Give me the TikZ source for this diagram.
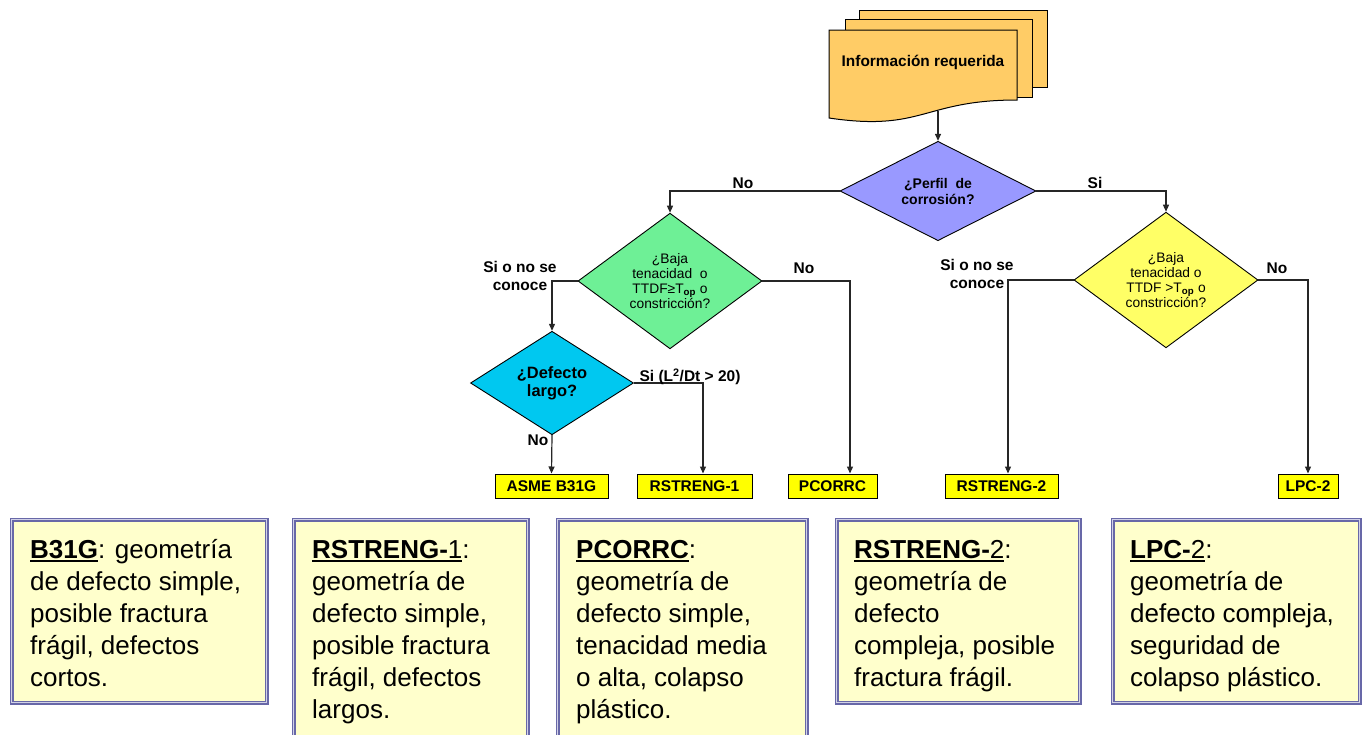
\documentclass[tikz,border=0pt]{standalone}
\usepackage{fontspec}
\setmainfont{Liberation Sans}
\usetikzlibrary{shapes.geometric,arrows.meta,calc}

\definecolor{docfill}{RGB}{255,204,102}
\definecolor{perfilfill}{RGB}{153,153,255}
\definecolor{greenfill}{RGB}{110,240,150}
\definecolor{cyanfill}{RGB}{0,200,240}
\definecolor{lightyel}{RGB}{255,255,102}
\definecolor{tagyel}{RGB}{255,255,0}
\definecolor{descfill}{RGB}{255,255,204}
\definecolor{descedge}{RGB}{104,104,168}
\definecolor{descgap}{RGB}{210,210,232}

% underline with a heavier rule
\newcommand\ulbox[1]{\leavevmode\setbox0\hbox{#1}\rlap{\rule[-4.2pt]{\wd0}{2.2pt}}\box0}
\newcommand\desctext[1]{\parbox[t]{300pt}{\fontsize{26}{32}\selectfont\raggedright #1}}

\begin{document}
\begin{tikzpicture}[x=1pt,y=-1pt,
  sheet/.style={fill=docfill,draw=black,line width=1pt},
  conn/.style={draw=black!85,line width=1.2pt,-{Triangle[length=7pt,width=6pt]}},
  decision/.style={diamond,draw=black,line width=0.9pt,inner sep=0pt,align=center},
  lbl/.style={font=\fontsize{15.5}{18}\selectfont\bfseries,align=center,inner sep=0pt},
  tag/.style={draw=black,line width=1pt,fill=tagyel,minimum height=24pt,inner sep=0pt,
              font=\fontsize{15.5}{18}\selectfont\bfseries},
  descbox/.style={draw=descedge,line width=1.6pt,double=descgap,double distance=1.2pt,
                  fill=descfill,anchor=north west,inner sep=0pt},
  desc/.style={anchor=base west,inner sep=0pt}]
\useasboundingbox (0,0) rectangle (1363,734);
\clip (0,0) rectangle (1363,734);

% stacked document sheets
\filldraw[sheet] (859,10) -- (1047,10) -- (1047,87) -- (859,87) -- cycle;
\filldraw[sheet] (845,19) -- (1032,19) -- (1032,97) -- (845,97) -- cycle;
\filldraw[sheet] (829,30) -- (1017,30) -- (1017,100)
   .. controls (923,100) and (923,132) .. (829,118) -- cycle;
\node[font=\fontsize{15.4}{18}\selectfont\bfseries] (info) at (923,62) {Información requerida};
\coordinate (docb) at (938,111);

% decisions
\node[decision,fill=perfilfill,minimum width=196pt,minimum height=98pt,
      font=\fontsize{14}{16}\selectfont\bfseries] (perfil) at (938,191) {¿Perfil\ \ de\\corrosión?};
\node[decision,fill=greenfill,minimum width=184pt,minimum height=118pt,
      font=\fontsize{13.8}{15}\selectfont] (green) at (670,281)
      {¿Baja\\tenacidad\ \ o\\TTDF≥T\textsubscript{\bfseries op} o\\constricción?};
\node[decision,fill=lightyel,minimum width=184pt,minimum height=116pt,
      font=\fontsize{13.8}{15}\selectfont] (yellow) at (1166,280)
      {¿Baja\\tenacidad o\\TTDF >T\textsubscript{\bfseries op} o\\constricción?};
\node[decision,fill=cyanfill,minimum width=163pt,minimum height=62pt,
      font=\fontsize{16.4}{18}\selectfont\bfseries] (cyan) at (552,383) {¿Defecto\\largo?};

% result tags
\node[tag,minimum width=113pt] (asme) at (551.5,486) {ASME B31G};
\node[tag,minimum width=115pt] (r1) at (694.5,486) {RSTRENG-1};
\node[tag,minimum width=89pt] (pc) at (832.5,486) {PCORRC};
\node[tag,minimum width=113pt] (r2) at (1001.5,486) {RSTRENG-2};
\node[tag,minimum width=60pt] (lpc) at (1308,486) {LPC-2};

% connectors
\draw[conn] (docb) -- (perfil.north);
\draw[conn] (perfil.west) -| (green.north);
\draw[conn] (perfil.east) -| (yellow.north);
\draw[conn] (green.west) -| (cyan.north);
\draw[conn] (green.east) -| ($(pc.north)+(17.5,0)$);
\draw[conn] (cyan.east) -| ($(r1.north)+(8.5,0)$);
\draw[conn] (cyan.south) -- (asme.north);
\draw[conn] (yellow.west) -| ($(r2.north)+(6.5,0)$);
\draw[conn] (yellow.east) -| (lpc.north);

% connector labels
\node[lbl] (lNo1) at (743,183) {No};
\node[lbl] (lSi1) at (1095,183) {Si};
\node[lbl] (lSiL) at (520,276) {Si o no se\\conoce};
\node[lbl] (lNo2) at (804,268) {No};
\node[lbl] (lSi2) at (690,377) {Si (L\textsuperscript{2}/Dt > 20)};
\node[lbl] (lNo3) at (538,440) {No};
\node[lbl] (lSiR) at (977,274) {Si o no se\\conoce};
\node[lbl] (lNo4) at (1277,268) {No};

% description panels
\node[descbox,minimum width=255pt,minimum height=183pt] (bB31G) at (11,519) {};
\node[descbox,minimum width=234pt,minimum height=240pt] (bR1) at (293,519) {};
\node[descbox,minimum width=249pt,minimum height=240pt] (bPC) at (557,519) {};
\node[descbox,minimum width=243pt,minimum height=183pt] (bR2) at (836,519) {};
\node[descbox,minimum width=247pt,minimum height=183pt] (bLPC) at (1112,519) {};

\node[desc] (tB31G) at (30,558) {\desctext{\ulbox{\bfseries B31G}: geometría\\de defecto simple,\\posible fractura\\frágil, defectos\\cortos.}};
\node[desc] (tR1) at (312,558) {\desctext{\ulbox{\textbf{RSTRENG-}1}:\\geometría de\\defecto simple,\\posible fractura\\frágil, defectos\\largos.}};
\node[desc] (tPC) at (576,558) {\desctext{\ulbox{\bfseries PCORRC}:\\geometría de\\defecto simple,\\tenacidad media\\o alta, colapso\\plástico.}};
\node[desc] (tR2) at (854,558) {\desctext{\ulbox{\textbf{RSTRENG-}2}:\\geometría de\\defecto\\compleja, posible\\fractura frágil.}};
\node[desc] (tLPC) at (1130,558) {\desctext{\ulbox{\textbf{LPC-}2}:\\geometría de\\defecto compleja,\\seguridad de\\colapso plástico.}};
\end{tikzpicture}
\end{document}
